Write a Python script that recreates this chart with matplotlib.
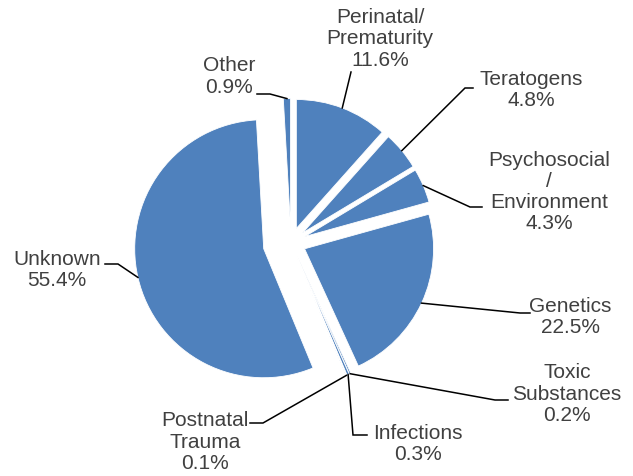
import numpy as np
import matplotlib
matplotlib.use("Agg")
import matplotlib.pyplot as plt

# ---- data ----
categories = ["Perinatal/\nPrematurity", "Teratogens", "Psychosocial\n/\nEnvironment",
              "Genetics", "Toxic\nSubstances", "Infections", "Postnatal\nTrauma",
              "Unknown", "Other"]
values = [11.6, 4.8, 4.3, 22.5, 0.2, 0.3, 0.1, 55.4, 0.9]
explode_frac = [0.116, 0.116, 0.116, 0.116, 0.116, 0.116, 0.116, 0.217, 0.116]

# ---- layout (pixel coords, y down) ----
W, H = 633, 476
CX, CY, R = 291, 242.5, 129
label_pos = [(380, 39), (531, 90), (549, 192), (570, 317), (567, 394),
             (418, 444), (205, 442), (57, 270), (229, 76.5)]
leader_pts = [
    [(351, 72)],
    [(465, 88), (473, 88)],
    [(470, 207), (482, 207)],
    [(520, 313), (530, 313)],
    [(495, 400), (508, 400)],
    [(353, 435), (367, 435)],
    [(263, 423), (250, 423)],
    [(118, 264), (105, 264)],
    [(270, 94), (257, 94)],
]

BLUE = "#4F81BD"
TXT = "#404040"
plt.rcParams['font.family'] = ['Liberation Sans', 'DejaVu Sans']

fig = plt.figure(figsize=(W / 100, H / 100), dpi=100)
ax = fig.add_axes([0, 0, 1, 1])

def fy(y):
    return H - y

wedges, _ = ax.pie(values, explode=[e * R for e in explode_frac], startangle=90,
                   counterclock=False, colors=[BLUE] * len(values), radius=R,
                   center=(CX, fy(CY)),
                   wedgeprops=dict(edgecolor='white', linewidth=0.6),
                   frame=True)
ax.set_xlim(0, W)
ax.set_ylim(0, H)
ax.set_aspect('equal')
ax.axis('off')

for i, w in enumerate(wedges):
    mid = np.deg2rad((w.theta1 + w.theta2) / 2)
    cx, cy = w.center
    ax_x = cx + R * np.cos(mid)
    ax_y = cy + R * np.sin(mid)
    xs = [ax_x] + [p[0] for p in leader_pts[i]]
    ys = [ax_y] + [fy(p[1]) for p in leader_pts[i]]
    ax.plot(xs, ys, color='black', lw=1.1, solid_joinstyle='miter')
    lx, ly = label_pos[i]
    ax.text(lx, fy(ly), f"{categories[i]}\n{values[i]:.1f}%", ha='center', va='center',
            fontsize=15, color=TXT, linespacing=1.15)

fig.savefig("out.png", dpi=100)
